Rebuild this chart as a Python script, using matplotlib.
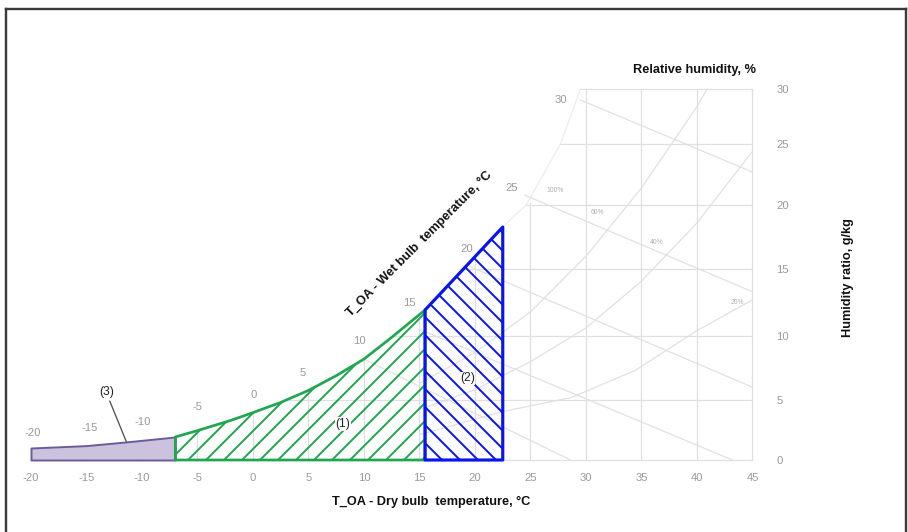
import numpy as np
import matplotlib
matplotlib.use("Agg")
import matplotlib.pyplot as plt
from matplotlib.lines import Line2D

plt.rcParams['font.family'] = ['Liberation Sans', 'DejaVu Sans']
plt.rcParams['hatch.linewidth'] = 1.3

# ---- zones: dry-bulb temperature (°C) vs humidity ratio (g/kg) ----
zone3_t = [-20, -15, -11.5, -7]
zone3_w = [1.0, 1.2, 1.5, 1.92]
zone1_t = [-7, -5, -2, 0, 2.5, 5, 7.5, 10, 12.5, 15.5]
zone1_w = [1.92, 2.45, 3.3, 3.95, 4.8, 5.75, 6.9, 8.2, 9.9, 11.94]
zone2_t = [15.5, 22.5]
zone2_w = [11.94, 18.28]

zone_names = ['(1)', '(2)', '(3)']
zone_label_t = [8.1, 19.3, -13.2]
zone_label_w = [3.0, 6.7, 5.6]
leader_t = [-12.9, -11.4]
leader_w = [4.9, 1.5]

# wet-bulb scale printed along the saturation curve
wb_values = [-20, -15, -10, -5, 0, 5, 10, 15, 20, 25, 30]
wb_label_t = [-19.8, -14.7, -9.9, -5.0, 0.1, 4.5, 9.6, 14.1, 19.3, 23.3, 27.7]
wb_label_w = [2.25, 2.67, 3.17, 4.42, 5.4, 7.1, 9.6, 12.5, 16.6, 21.4, 29.0]

# axes ticks
dry_ticks = [-20, -15, -10, -5, 0, 5, 10, 15, 20, 25, 30, 35, 40, 45]
dry_tick_labels = ['-20', '-15', '-10', '-5', '0', '5', '10', '15', '20',
                   '25', '30', '35', '40', '45']
w_ticks = [0, 5, 10, 15, 20, 25, 30]

# background psychrometric grid
grid_t = [-20, -15, -10, -5, 0, 5, 10, 15, 20, 25, 30, 35, 40, 45]
grid_t_top = [1.0, 1.2, 1.6, 2.45, 3.95, 5.75, 8.2, 11.5, 16.0, 20.2, 30, 30, 30, 30]
grid_w = [5, 10, 15, 20, 25, 30]
grid_w_start = [3.2, 12.6, 18.9, 24.6, 27.7, 29.5]
sat_ext_t = [22.5, 24.6, 27.7, 29.5]
sat_ext_w = [18.28, 20.0, 25.0, 30.0]

wbl_start_t = [10, 15, 19.5, 24.5, 29.5]
wbl_start_w = [8.2, 10.5, 15.2, 20.8, 29.0]
wbl_end_t = [28.6, 43.2, 45, 45, 45]
wbl_end_w = [0, 0, 6.0, 13.3, 22.7]

rh20_t = [15, 22.3, 28.7, 34.4, 40.0, 45]
rh20_w = [2.1, 4.0, 5.2, 7.3, 10.4, 12.7]
rh40_t = [15, 20, 25, 30, 35, 40, 45]
rh40_w = [4.2, 5.8, 8.0, 10.6, 14.1, 18.6, 24.4]
rh60_t = [15, 20, 25, 30, 35, 40, 40.9]
rh60_w = [6.3, 8.7, 11.8, 16.0, 21.4, 28.4, 30]

rh_labels = ['100%', '60%', '40%', '20%']
rh_label_t = [27.2, 31.0, 36.4, 43.6]
rh_label_w = [21.2, 19.4, 17.1, 12.5]

# ---- humidity-ratio axis: chart spacing between the printed gridlines ----
W_KNOTS = np.array([0, 5, 10, 15, 20, 25, 30], float)
V_KNOTS = np.array([0, 60, 124, 191, 255, 316, 371], float)


def w_to_v(w):
    w = np.asarray(w, float)
    v = np.interp(w, W_KNOTS, V_KNOTS)
    v = np.where(w < 0, w * 12.0, v)
    v = np.where(w > 30, 371 + (w - 30) * 11.0, v)
    return v


def v_to_w(v):
    v = np.asarray(v, float)
    w = np.interp(v, V_KNOTS, W_KNOTS)
    w = np.where(v < 0, v / 12.0, w)
    w = np.where(v > 371, 30 + (v - 371) / 11.0, w)
    return w


DPI = 108
W_PX, H_PX = 909, 532
fig = plt.figure(figsize=(W_PX / DPI, H_PX / DPI), dpi=DPI, facecolor='white')

x0, x1 = -21.5, 47.0
y0, y1 = -0.6, 31.0
px_per_deg = 11.1
left_px = 253 + px_per_deg * x0
right_px = 253 + px_per_deg * x1
bottom_px = 460 - float(w_to_v(y0))
top_px = 460 - float(w_to_v(y1))
ax = fig.add_axes([left_px / W_PX, 1 - bottom_px / H_PX,
                   (right_px - left_px) / W_PX, (bottom_px - top_px) / H_PX])
ax.set_yscale('function', functions=(w_to_v, v_to_w))
ax.set_xlim(x0, x1)
ax.set_ylim(y0, y1)
ax.set_facecolor('none')
for s in ax.spines.values():
    s.set_visible(False)

grey_txt = '#9a9a9a'
ax.set_xticks(dry_ticks)
ax.set_xticklabels(dry_tick_labels)
ax.yaxis.tick_right()
ax.set_yticks(w_ticks)
ax.set_yticklabels([str(v) for v in w_ticks])
ax.tick_params(axis='x', length=0, pad=4, labelsize=7.5, labelcolor=grey_txt)
ax.tick_params(axis='y', length=0, pad=1, labelsize=7.5, labelcolor=grey_txt)
ax.yaxis.set_minor_locator(matplotlib.ticker.NullLocator())

# background grid
gcol = '#e0e0e0'
glw = 0.8
for t, top in zip(grid_t, grid_t_top):
    ax.plot([t, t], [0, top], color=gcol, lw=glw, zorder=1)
ax.plot([-20, 45], [0, 0], color=gcol, lw=glw, zorder=1)
for w, start in zip(grid_w, grid_w_start):
    ax.plot([start, 45], [w, w], color=gcol, lw=glw, zorder=1)
ax.plot(sat_ext_t, sat_ext_w, color='#ececec', lw=glw, zorder=1)
for ts, ws, te, we in zip(wbl_start_t, wbl_start_w, wbl_end_t, wbl_end_w):
    ax.plot([ts, te], [ws, we], color=gcol, lw=glw, zorder=1)
for tt, ww in ((rh20_t, rh20_w), (rh40_t, rh40_w), (rh60_t, rh60_w)):
    ax.plot(tt, ww, color=gcol, lw=glw, zorder=1)
for lab, t, w in zip(rh_labels, rh_label_t, rh_label_w):
    ax.text(t, w, lab, fontsize=4.5, color='#b0b0b0', ha='center', va='center', zorder=2)

# zones
ax.fill_between(zone3_t, 0, zone3_w, facecolor='#cbc3de', edgecolor='#6d5c9c',
                linewidth=1.3, zorder=3)
ax.fill_between(zone1_t, 0, zone1_w, facecolor='none', edgecolor='#1fa64f',
                hatch='//', linewidth=1.8, zorder=4)
ax.fill_between(zone2_t, 0, zone2_w, facecolor='none', edgecolor='#0a14f0',
                hatch='\\\\', linewidth=2.1, zorder=5)

for lab, t, w in zip(zone_names, zone_label_t, zone_label_w):
    ax.text(t, w, lab, fontsize=8, color='#222222', ha='center', va='center',
            zorder=6, bbox=dict(facecolor='white', edgecolor='none', pad=0.5))
ax.plot(leader_t, leader_w, color='#555555', lw=0.9, zorder=6)

for v, t, w in zip(wb_values, wb_label_t, wb_label_w):
    ax.text(t, w, '-%d' % abs(v) if v < 0 else str(v), fontsize=7.5,
            color=grey_txt, ha='center', va='center', zorder=6)

# titles
bold = dict(fontsize=8.5, fontweight='bold', color='#111111')
fig.text(431 / W_PX, 1 - 502 / H_PX, 'T_OA - Dry bulb  temperature, °C',
         ha='center', va='center', **bold)
fig.text(419 / W_PX, 1 - 244 / H_PX, 'T_OA - Wet bulb  temperature, °C',
         ha='center', va='center', rotation=45, rotation_mode='anchor', **bold)
fig.text(695 / W_PX, 1 - 70 / H_PX, 'Relative humidity, %',
         ha='center', va='center', **bold)
fig.text(848 / W_PX, 1 - 278 / H_PX, 'Humidity ratio, g/kg',
         ha='center', va='center', rotation=90, **bold)

# outer frame
fcol = '#3a3a3a'
fx0, fx1, fy = 6 / W_PX, 906 / W_PX, 1 - 9 / H_PX
fig.add_artist(Line2D([fx0, fx0], [0, fy], color=fcol, lw=1.6, transform=fig.transFigure))
fig.add_artist(Line2D([fx0, fx1], [fy, fy], color=fcol, lw=1.6, transform=fig.transFigure))
fig.add_artist(Line2D([fx1, fx1], [0, fy], color=fcol, lw=1.6, transform=fig.transFigure))

fig.savefig('out.png', dpi=DPI, facecolor='white')
